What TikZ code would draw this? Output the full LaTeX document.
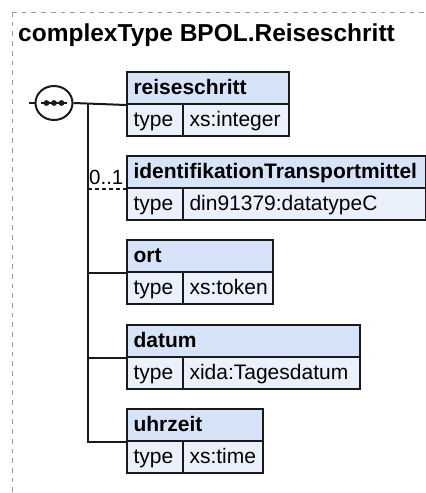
\documentclass[tikz,border=0pt]{standalone}
\usepackage{fontspec}
\setmainfont{Liberation Sans}
\usetikzlibrary{shapes.geometric}
\definecolor{hdrfill}{HTML}{D6E3F8}
\definecolor{rowfill}{HTML}{EBF1FC}
\definecolor{edge}{HTML}{1A1A1A}
\definecolor{framec}{HTML}{9A9A9A}
\begin{document}
\begin{tikzpicture}[x=1pt,y=1pt,
  cell/.style={draw=edge, line width=2pt, inner xsep=6.5pt, inner ysep=0pt,
    text height=16pt, text depth=4pt, minimum height=32pt, align=left,
    anchor=north west, font=\fontsize{21}{25}\selectfont},
  hdr/.style={cell, fill=hdrfill, font=\fontsize{21}{25}\selectfont\bfseries},
  row/.style={cell, fill=rowfill},
  conn/.style={draw=edge, line width=2pt},
  optconn/.style={draw=edge, line width=1.8pt, dash pattern=on 4pt off 3pt},
  framestyle/.style={draw=framec, line width=1pt, dash pattern=on 4.7pt off 5pt},
  lbl/.style={anchor=base west, inner sep=0pt, font=\fontsize{20.5}{24}\selectfont}
]
\useasboundingbox (0,0) rectangle (426,-493);

% frame
\coordinate (f1) at (426,-12);
\coordinate (f2) at (12,-12);
\coordinate (f3) at (12,-493);
\draw[framestyle] (f2) -- (f1);
\draw[framestyle] (f2) -- (f3);

% title
\node[anchor=base west, inner sep=0pt, font=\fontsize{24.5}{29}\selectfont\bfseries] (title) at (18,-41.7) {complexType BPOL.Reiseschritt};

% boxes
\node[hdr, text width=149pt] (h1) at (126,-71) {reiseschritt};
\node[row, text width=43pt] (t1) at (126,-103) {type};
\node[row, text width=93pt] (v1) at (182,-103) {xs:integer};

\node[hdr, text width=286pt] (h2) at (126,-155) {identifikationTransportmittel};
\node[row, text width=43pt] (t2) at (126,-187) {type};
\node[row, text width=230pt] (v2) at (182,-187) {din91379:datatypeC};

\node[hdr, text width=133pt] (h3) at (126,-239) {ort};
\node[row, text width=43pt] (t3) at (126,-271) {type};
\node[row, text width=77pt] (v3) at (182,-271) {xs:token};

\node[hdr, text width=220pt] (h4) at (126,-324) {datum};
\node[row, text width=43pt] (t4) at (126,-356) {type};
\node[row, text width=164pt] (v4) at (182,-356) {xida:Tagesdatum};

\node[hdr, text width=123pt] (h5) at (126,-408) {uhrzeit};
\node[row, text width=43pt] (t5) at (126,-440) {type};
\node[row, text width=67pt] (v5) at (182,-440) {xs:time};

% sequence compositor
\coordinate (in) at (29,-103);
\coordinate (j) at (88,-103);
\draw[conn] (in) -- (54,-103);
\draw[conn] (j) |- (h5.south west);
\draw[conn] (j |- h3.south west) -- (h3.south west);
\draw[conn] (j |- h4.south west) -- (h4.south west);
\draw[optconn] (j |- h2.south west) -- (h2.south west);
\node[draw=edge, line width=2pt, ellipse, minimum width=37pt, minimum height=34pt,
  inner sep=0pt, fill=white] (seq) at (54,-103) {};
\draw[conn] (seq.east) -- (h1.south west);
\draw[edge, line width=1.8pt] ([xshift=-13pt]seq.center) -- ([xshift=13pt]seq.center);
\fill[edge] ([xshift=-7.5pt]seq.center) circle (2.9pt);
\fill[edge] (seq.center) circle (2.9pt);
\fill[edge] ([xshift=7.5pt]seq.center) circle (2.9pt);

% cardinality
\node[lbl] (m2) at (89,-184.5) {0..1};
\end{tikzpicture}
\end{document}
